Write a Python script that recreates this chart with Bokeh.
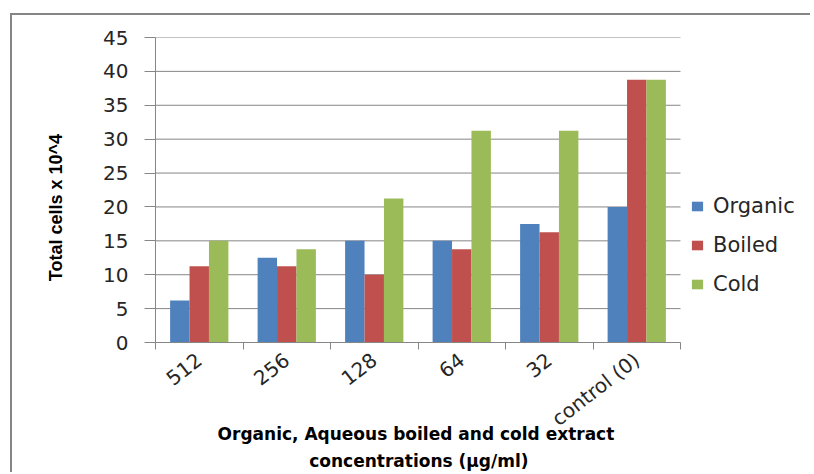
import math
from bokeh.plotting import figure
from bokeh.models import (ColumnDataSource, Range1d, FixedTicker, Legend, LegendItem)
from bokeh.transform import dodge
from bokeh.embed import file_html
from bokeh.resources import INLINE

categories = ["512", "256", "128", "64", "32", "control (0)"]
organic = [6.2, 12.5, 15.0, 15.0, 17.5, 20.0]
boiled = [11.25, 11.25, 10.0, 13.75, 16.25, 38.75]
cold = [15.0, 13.75, 21.25, 31.25, 31.25, 38.75]
y_ticks = [0, 5, 10, 15, 20, 25, 30, 35, 40, 45]

series_names = ["Organic", "Boiled", "Cold"]
colors = ["#4F81BD", "#C0504D", "#9BBB59"]
x_title_lines = ["Organic, Aqueous boiled and  cold extract", "concentrations (\u00b5g/ml)"]
y_title = "Total cells x 10^4"

n = len(categories)
centers = [i + 0.5 for i in range(n)]
bounds = [i for i in range(n + 1)]

source = ColumnDataSource(dict(x=centers, Organic=organic, Boiled=boiled, Cold=cold))

# layout: plotting part occupies 525 of the 657 px frame; legend sits in the rest
W, H, BL = 800, 459, 143
frame_w = W - BL
x_end = n * frame_w / 525.0

p = figure(width=W, height=H, output_backend="svg", toolbar_location=None,
           x_range=Range1d(0, x_end), y_range=Range1d(0, 45),
           min_border_left=BL, min_border_right=0, min_border_top=22,
           min_border_bottom=131)
p.styles = {"margin-left": "10px", "margin-top": "13px",
            "border-left": "2px solid #858585", "border-top": "2px solid #858585"}
p.outline_line_color = None
p.background_fill_color = "white"
p.border_fill_color = "white"

# horizontal grid lines, limited to the category area
p.segment(x0=[0] * len(y_ticks), x1=[n] * len(y_ticks), y0=y_ticks, y1=y_ticks,
          line_color="#868686", line_width=1)

bw = 0.222
offsets = [-bw, 0.0, bw]
renderers = []
for name, col, off in zip(series_names, colors, offsets):
    r = p.vbar(x=dodge("x", off), top=name, width=bw, source=source,
               fill_color=col, line_color=None)
    renderers.append(r)

# y axis
p.yaxis.ticker = FixedTicker(ticks=y_ticks)
p.yaxis.axis_line_color = "#868686"
p.yaxis.major_tick_line_color = "#868686"
p.yaxis.major_tick_out = 11
p.yaxis.major_tick_in = 0
p.yaxis.minor_tick_line_color = None
p.yaxis.major_label_text_font = "DejaVu Sans"
p.yaxis.major_label_text_font_size = "20px"
p.yaxis.major_label_text_color = "#262626"
p.yaxis.major_label_standoff = 16
p.yaxis.axis_label = y_title + "\u00a0" * 7
p.yaxis.axis_label_text_font = "Liberation Sans"
p.yaxis.axis_label_text_font_style = "bold"
p.yaxis.axis_label_text_font_size = "18px"
p.yaxis.axis_label_text_color = "#000000"
p.yaxis.axis_label_standoff = 34

# x axis
p.xaxis.bounds = (0, n)
p.xaxis.ticker = FixedTicker(ticks=centers, minor_ticks=bounds)
p.xaxis.major_label_overrides = {c: lab for c, lab in zip(centers, categories)}
p.xaxis.axis_line_color = "#868686"
p.xaxis.major_tick_line_color = None
p.xaxis.major_tick_out = 0
p.xaxis.major_tick_in = 0
p.xaxis.minor_tick_line_color = "#868686"
p.xaxis.minor_tick_out = 7
p.xaxis.minor_tick_in = 0
p.xaxis.major_label_orientation = 0.66
p.xaxis.major_label_text_font = "DejaVu Sans"
p.xaxis.major_label_text_font_size = "20px"
p.xaxis.major_label_text_color = "#262626"
p.xaxis.major_label_standoff = 8
# trailing no-break spaces centre the title under the category area (not the whole frame)
pad = "\u00a0" * 22
p.xaxis.axis_label = "\n".join(line + pad for line in x_title_lines)
p.xaxis.axis_label_text_font = "DejaVu Sans"
p.xaxis.axis_label_text_font_style = "bold"
p.xaxis.axis_label_text_font_size = "17px"
p.xaxis.axis_label_text_line_height = 1.36
p.xaxis.axis_label_text_color = "#000000"
p.xaxis.axis_label_standoff = -19

# grid
p.xgrid.grid_line_color = None
p.ygrid.grid_line_color = None

legend = Legend(items=[LegendItem(label=s, renderers=[r]) for s, r in zip(series_names, renderers)],
                location=(535, 46), orientation="vertical",
                border_line_color=None, background_fill_alpha=0,
                padding=0, margin=0, spacing=15,
                label_text_font="DejaVu Sans", label_text_font_size="21px",
                label_text_color="#262626", label_height=24, label_standoff=9,
                glyph_width=14, glyph_height=12)
p.add_layout(legend, "center")

open("out.html", "w").write(file_html(p, INLINE))
